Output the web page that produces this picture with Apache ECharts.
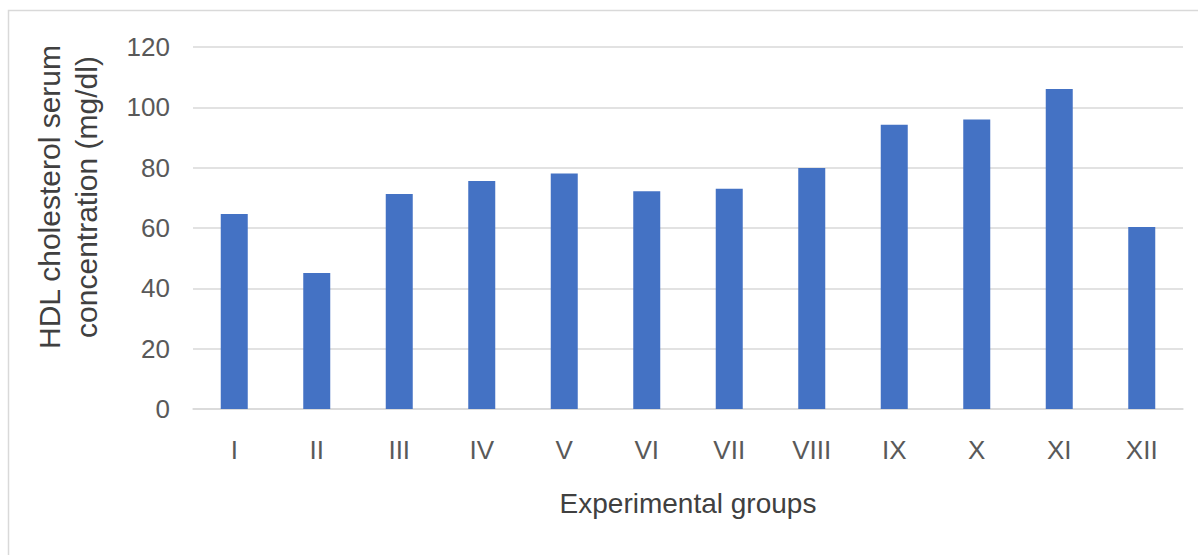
<!DOCTYPE html>
<html>
<head>
<meta charset="utf-8">
<script src="https://cdn.jsdelivr.net/npm/echarts@6/dist/echarts.min.js"></script>
<style>
  html, body { margin: 0; padding: 0; background: #ffffff; }
  #chart { width: 1198px; height: 555px; }
</style>
</head>
<body>
<div id="chart"></div>
<script>
// Experimental groups (Roman numerals)
const groups = ['I', 'II', 'III', 'IV', 'V', 'VI', 'VII', 'VIII', 'IX', 'X', 'XI', 'XII'];
// HDL cholesterol serum concentration per group, mg/dl
const hdlValues = [64.6, 45.1, 71.3, 75.6, 78.1, 72.2, 73.0, 79.9, 94.2, 96.0, 106.1, 60.3];
// Value axis range and step
const yMin = 0;
const yMax = 120;
const yStep = 20;

const xTitle = 'Experimental groups';
const yTitle = 'HDL cholesterol serum\nconcentration (mg/dl)';

const fontFamily = '"Liberation Sans", Arial, sans-serif';
const gridColor = '#d9d9d9';
const labelColor = '#595959';

const chart = echarts.init(document.getElementById('chart'), null, { renderer: 'svg' });

chart.setOption({
  animation: false,
  backgroundColor: '#ffffff',
  grid: { left: 193, right: 15, top: 47, bottom: 146, containLabel: false },
  graphic: [
    {
      // outer chart-area frame
      type: 'rect',
      silent: true,
      shape: { x: 8.5, y: 10.5, width: 1400, height: 800 },
      style: { fill: 'none', stroke: gridColor, lineWidth: 1.5 }
    },
    {
      type: 'text',
      silent: true,
      x: 68,
      y: 197,
      rotation: Math.PI / 2,
      style: {
        text: yTitle,
        font: '30px ' + fontFamily,
        fill: '#404040',
        align: 'center',
        verticalAlign: 'middle',
        lineHeight: 37
      }
    }
  ],
  xAxis: {
    type: 'category',
    data: groups,
    name: xTitle,
    nameLocation: 'middle',
    nameGap: 80,
    nameTextStyle: { fontFamily: fontFamily, fontSize: 28, color: '#404040' },
    axisLine: { show: true, lineStyle: { color: gridColor, width: 1.5 } },
    axisTick: { show: false },
    axisLabel: { fontFamily: fontFamily, fontSize: 26, color: labelColor, margin: 28 }
  },
  yAxis: {
    type: 'value',
    min: yMin,
    max: yMax,
    interval: yStep,
    axisLine: { show: false },
    axisTick: { show: false },
    splitLine: { lineStyle: { color: gridColor, width: 1.5 } },
    axisLabel: { fontFamily: fontFamily, fontSize: 26, color: labelColor, margin: 23 }
  },
  series: [
    {
      type: 'bar',
      data: hdlValues,
      barWidth: 27,
      itemStyle: { color: '#4472C4' }
    }
  ]
});
</script>
</body>
</html>
